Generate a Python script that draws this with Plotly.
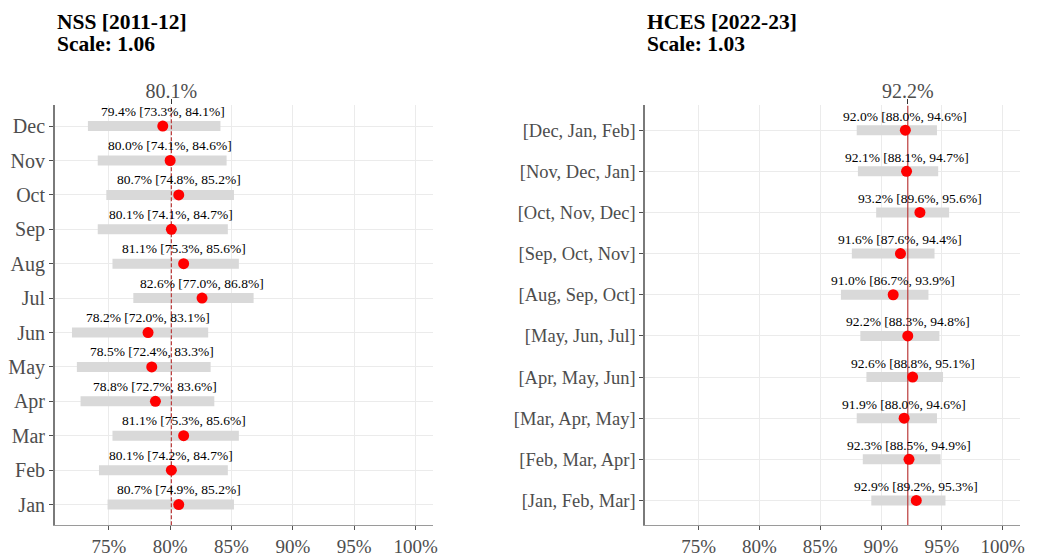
import plotly.graph_objects as go

# NSS 2011-12, months (bottom -> top)
nss_labels = ["Jan", "Feb", "Mar", "Apr", "May", "Jun", "Jul", "Aug", "Sep", "Oct", "Nov", "Dec"]
nss_est = [80.7, 80.1, 81.1, 78.8, 78.5, 78.2, 82.6, 81.1, 80.1, 80.7, 80.0, 79.4]
nss_lo = [74.9, 74.2, 75.3, 72.7, 72.4, 72.0, 77.0, 75.3, 74.1, 74.8, 74.1, 73.3]
nss_hi = [85.2, 84.7, 85.6, 83.6, 83.3, 83.1, 86.8, 85.6, 84.7, 85.2, 84.6, 84.1]
nss_overall = 80.1
nss_scale = 1.06

# HCES 2022-23, rolling quarters (bottom -> top)
hces_labels = ["[Jan, Feb, Mar]", "[Feb, Mar, Apr]", "[Mar, Apr, May]", "[Apr, May, Jun]",
               "[May, Jun, Jul]", "[Aug, Sep, Oct]", "[Sep, Oct, Nov]", "[Oct, Nov, Dec]",
               "[Nov, Dec, Jan]", "[Dec, Jan, Feb]"]
hces_est = [92.9, 92.3, 91.9, 92.6, 92.2, 91.0, 91.6, 93.2, 92.1, 92.0]
hces_lo = [89.2, 88.5, 88.0, 88.8, 88.3, 86.7, 87.6, 89.6, 88.1, 88.0]
hces_hi = [95.3, 94.9, 94.6, 95.1, 94.8, 93.9, 94.4, 95.6, 94.7, 94.6]
hces_overall = 92.2
hces_scale = 1.03

x_ticks = [75, 80, 85, 90, 95, 100]
x_range = [70.6, 101.4]

FONT = "Liberation Serif, Times New Roman, DejaVu Serif, serif"
GRAY = "#4d4d4d"

fig = go.Figure()

panels = [
    dict(name="NSS [2011-12]", scale=nss_scale, labels=nss_labels, est=nss_est, lo=nss_lo, hi=nss_hi,
         overall=nss_overall, xa="x", ya="y", top="x3", dom=[0.0456, 0.414], dash="4px,2px",
         shift=15, ysize=20),
    dict(name="HCES [2022-23]", scale=hces_scale, labels=hces_labels, est=hces_est, lo=hces_lo, hi=hces_hi,
         overall=hces_overall, xa="x2", ya="y2", top="x4", dom=[0.621, 0.986], dash="solid",
         shift=14, ysize=18.5),
]

annotations = []
for p in panels:
    n = len(p["labels"])
    idx = list(range(n))

    # interval bars
    bx, by = [], []
    for i in idx:
        bx += [p["lo"][i], p["hi"][i], None]
        by += [i, i, None]
    fig.add_trace(go.Scatter(x=bx, y=by, mode="lines", line=dict(color="#d9d9d9", width=10),
                             xaxis=p["xa"], yaxis=p["ya"], showlegend=False, hoverinfo="skip"))

    # overall reference line
    fig.add_trace(go.Scatter(x=[p["overall"], p["overall"]], y=[-0.6, n - 0.4], mode="lines",
                             line=dict(color="#bb3b3b", width=1.2, dash=p["dash"]),
                             xaxis=p["xa"], yaxis=p["ya"], showlegend=False, hoverinfo="skip"))

    # point estimates
    fig.add_trace(go.Scatter(x=p["est"], y=idx, mode="markers", marker=dict(color="red", size=11),
                             xaxis=p["xa"], yaxis=p["ya"], showlegend=False))

    for i in idx:
        annotations.append(dict(
            x=p["est"][i], y=i, xref=p["xa"], yref=p["ya"], yshift=p["shift"],
            text=f"{p['est'][i]:.1f}% [{p['lo'][i]:.1f}%, {p['hi'][i]:.1f}%]",
            showarrow=False, font=dict(family=FONT, size=13.5, color="black")))

    # panel titles
    annotations.append(dict(x=p["dom"][0], y=0.9745, xref="paper", yref="paper", xanchor="left",
                            yanchor="middle", text=p["name"], showarrow=False,
                            font=dict(family=FONT, size=21.5, color="black", weight="bold")))
    annotations.append(dict(x=p["dom"][0], y=0.9344, xref="paper", yref="paper", xanchor="left",
                            yanchor="middle", text=f"Scale: {p['scale']:.2f}", showarrow=False,
                            font=dict(family=FONT, size=21.5, color="black", weight="bold")))

    xkey = "xaxis" if p["xa"] == "x" else "xaxis" + p["xa"][1:]
    ykey = "yaxis" if p["ya"] == "y" else "yaxis" + p["ya"][1:]
    tkey = "xaxis" + p["top"][1:]

    fig.layout[xkey] = dict(
        domain=p["dom"], anchor=p["ya"], range=x_range, tickvals=x_ticks,
        ticktext=[f"{t}%" for t in x_ticks], showgrid=True, gridcolor="#ebebeb", gridwidth=1,
        zeroline=False, showline=True, linecolor="#9a9a9a", linewidth=1,
        ticks="outside", ticklen=4, tickcolor="#555555",
        tickfont=dict(family=FONT, size=19, color=GRAY))
    fig.layout[ykey] = dict(
        domain=[0.0528, 0.8215], anchor=p["xa"], range=[-0.6, n - 0.4], tickvals=idx,
        ticktext=p["labels"], showgrid=True, gridcolor="#ebebeb", gridwidth=1, zeroline=False,
        showline=True, linecolor="#7a7a7a", linewidth=1.5, ticks="outside", ticklen=4,
        tickcolor="#4d4d4d", tickfont=dict(family=FONT, size=p["ysize"], color=GRAY))
    fig.layout[tkey] = dict(
        overlaying=p["xa"], anchor=p["ya"], side="top", range=x_range,
        tickvals=[p["overall"]], ticktext=[f"{p['overall']:.1f}%"], showgrid=False,
        zeroline=False, showline=False, ticks="outside", ticklen=5, tickcolor="#333333",
        ticklabelstandoff=-7, tickfont=dict(family=FONT, size=20, color=GRAY))

# invisible traces so the top axes render
for p in panels:
    fig.add_trace(go.Scatter(x=[p["overall"]], y=[0], xaxis=p["top"], yaxis=p["ya"], mode="markers",
                             marker=dict(opacity=0), showlegend=False, hoverinfo="skip"))

# page body has an 8px margin, so the figure is sized to the visible area
fig.update_layout(
    width=1031, height=549,
    margin=dict(l=0, r=0, t=0, b=0),
    paper_bgcolor="white", plot_bgcolor="white",
    annotations=annotations,
    font=dict(family=FONT),
)

fig.write_html("out.html")
